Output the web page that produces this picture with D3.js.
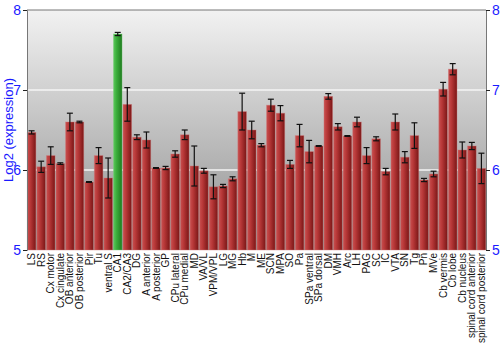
<!DOCTYPE html>
<html>
<head>
<meta charset="utf-8">
<script src="https://cdn.jsdelivr.net/npm/d3@7"></script>
<style>
  body { margin: 0; background: #fff; }
  text { font-family: "Liberation Sans", Arial, sans-serif; }
</style>
</head>
<body>
<div id="chart"></div>
<script>
const regions = ["LS", "RS", "Cx motor", "Cx cingulate", "OB anterior", "OB posterior", "Pir", "Tu",
  "ventral S", "CA1", "CA2/CA3", "DG", "A anterior", "A posterior", "GP", "CPu lateral", "CPu medial",
  "MD", "VA/VL", "VPM/VPL", "LG", "MG", "Hb", "M", "ME", "SCN", "MPA", "SO", "Pa", "SPa ventral",
  "SPa dorsal", "DM", "VMH", "Arc", "LH", "PAG", "SC", "IC", "VTA", "SN", "Tg", "Pn", "MVe",
  "Cb vermis", "Cb lobe", "Cb nucleus", "spinal cord anterior", "spinal cord posterior"];

const expression = [6.47, 6.04, 6.18, 6.08, 6.60, 6.60, 5.85, 6.18, 5.90, 7.70, 6.82, 6.41, 6.375,
  6.025, 6.025, 6.20, 6.44, 6.05, 5.99, 5.79, 5.80, 5.89, 6.73, 6.50, 6.31, 6.81, 6.71, 6.07, 6.43,
  6.23, 6.30, 6.92, 6.54, 6.425, 6.60, 6.18, 6.39, 5.98, 6.60, 6.16, 6.43, 5.875, 5.95, 7.01, 7.26,
  6.25, 6.30, 6.02];

const errors = [0.02, 0.07, 0.11, 0.01, 0.11, 0.01, 0.005, 0.10, 0.25, 0.02, 0.21, 0.03, 0.10,
  0.005, 0.02, 0.04, 0.06, 0.25, 0.03, 0.15, 0.02, 0.025, 0.23, 0.11, 0.02, 0.075, 0.095, 0.05,
  0.14, 0.14, 0.005, 0.035, 0.04, 0.005, 0.06, 0.10, 0.025, 0.04, 0.10, 0.07, 0.16, 0.02, 0.035,
  0.085, 0.07, 0.10, 0.045, 0.19];

const highlighted = ["CA1"];
const yTicks = [5, 6, 7, 8];

const data = regions.map((name, i) => ({ name, value: expression[i], err: errors[i] }));

const width = 500, height = 350;
const margin = { top: 10, right: 14, bottom: 100, left: 27 };
const innerW = width - margin.left - margin.right;
const innerH = height - margin.top - margin.bottom;

const svg = d3.select("#chart").append("svg")
  .attr("width", width)
  .attr("height", height);

const defs = svg.append("defs");

const bg = defs.append("linearGradient").attr("id", "bg")
  .attr("x1", 0).attr("y1", 0).attr("x2", 0).attr("y2", 1);
bg.append("stop").attr("offset", "0%").attr("stop-color", "#f2f2f2");
bg.append("stop").attr("offset", "100%").attr("stop-color", "#8e8e8e");

function barGradient(id, light, mid, dark) {
  const g = defs.append("linearGradient").attr("id", id)
    .attr("x1", 0).attr("y1", 0).attr("x2", 1).attr("y2", 0);
  g.append("stop").attr("offset", "0%").attr("stop-color", light);
  g.append("stop").attr("offset", "35%").attr("stop-color", mid);
  g.append("stop").attr("offset", "100%").attr("stop-color", dark);
}
barGradient("redBar", "#c85050", "#b83838", "#7a1616");
barGradient("greenBar", "#5cc85c", "#3cae3c", "#1e7a1e");

const g = svg.append("g")
  .attr("transform", `translate(${margin.left},${margin.top})`);

const x = d3.scaleBand()
  .domain(regions)
  .range([0, innerW])
  .paddingInner(0.1)
  .paddingOuter(0.03);

const y = d3.scaleLinear()
  .domain([5, 8])
  .range([innerH, 0]);

// background
g.append("rect")
  .attr("width", innerW)
  .attr("height", innerH)
  .attr("fill", "url(#bg)");

// grid lines
g.selectAll(".grid")
  .data([6, 7])
  .join("line")
  .attr("x1", 0)
  .attr("x2", innerW)
  .attr("y1", (d) => y(d))
  .attr("y2", (d) => y(d))
  .attr("stroke", "#f4f4f4")
  .attr("stroke-width", 1.5);

// bars
g.selectAll(".bar")
  .data(data)
  .join("rect")
  .attr("class", "bar")
  .attr("x", (d) => x(d.name))
  .attr("y", (d) => y(d.value))
  .attr("width", x.bandwidth())
  .attr("height", (d) => y(5) - y(d.value))
  .attr("fill", (d) => highlighted.includes(d.name) ? "url(#greenBar)" : "url(#redBar)")
  .attr("stroke", (d) => highlighted.includes(d.name) ? "#7fd07f" : "#d07a7a")
  .attr("stroke-opacity", 0.5)
  .attr("stroke-width", 0.8);

// error bars
const eb = g.selectAll(".err")
  .data(data)
  .join("g")
  .attr("class", "err")
  .attr("stroke", "#111")
  .attr("stroke-width", 1.2);

eb.append("line")
  .attr("x1", (d) => x(d.name) + x.bandwidth() / 2)
  .attr("x2", (d) => x(d.name) + x.bandwidth() / 2)
  .attr("y1", (d) => y(d.value - d.err))
  .attr("y2", (d) => y(d.value + d.err));

[1, -1].forEach((s) => {
  eb.append("line")
    .attr("x1", (d) => x(d.name) + x.bandwidth() / 2 - 3)
    .attr("x2", (d) => x(d.name) + x.bandwidth() / 2 + 3)
    .attr("y1", (d) => y(d.value + s * d.err))
    .attr("y2", (d) => y(d.value + s * d.err));
});

// frame
g.append("line")
  .attr("x1", 0).attr("x2", innerW)
  .attr("y1", 0).attr("y2", 0)
  .attr("stroke", "#777");

// axes
const yLeft = g.append("g")
  .call(d3.axisLeft(y).tickValues(yTicks).tickFormat(d3.format("d")).tickSize(4).tickPadding(2));
const yRight = g.append("g")
  .attr("transform", `translate(${innerW},0)`)
  .call(d3.axisRight(y).tickValues(yTicks).tickFormat(d3.format("d")).tickSize(4).tickPadding(2));

[yLeft, yRight].forEach((ax) => {
  ax.select(".domain").attr("stroke", "#777");
  ax.selectAll(".tick line").attr("stroke", "#222");
  ax.selectAll(".tick text")
    .attr("fill", "#1a1aff")
    .style("font-size", "14px")
    .style("font-family", "'Liberation Sans', Arial, sans-serif");
});

// x labels
g.append("g")
  .selectAll("text")
  .data(regions)
  .join("text")
  .attr("transform", (d) => `translate(${x(d) + x.bandwidth() / 2},${innerH + 3}) rotate(-90)`)
  .attr("text-anchor", "end")
  .attr("dy", "0.35em")
  .style("font-size", "10px")
  .attr("fill", "#111")
  .text((d) => d);

// y title
svg.append("text")
  .attr("transform", `translate(13,${margin.top + innerH / 2}) rotate(-90)`)
  .attr("text-anchor", "middle")
  .attr("fill", "#1a1aff")
  .style("font-size", "13px")
  .text("Log2 (expression)");
</script>
</body>
</html>
